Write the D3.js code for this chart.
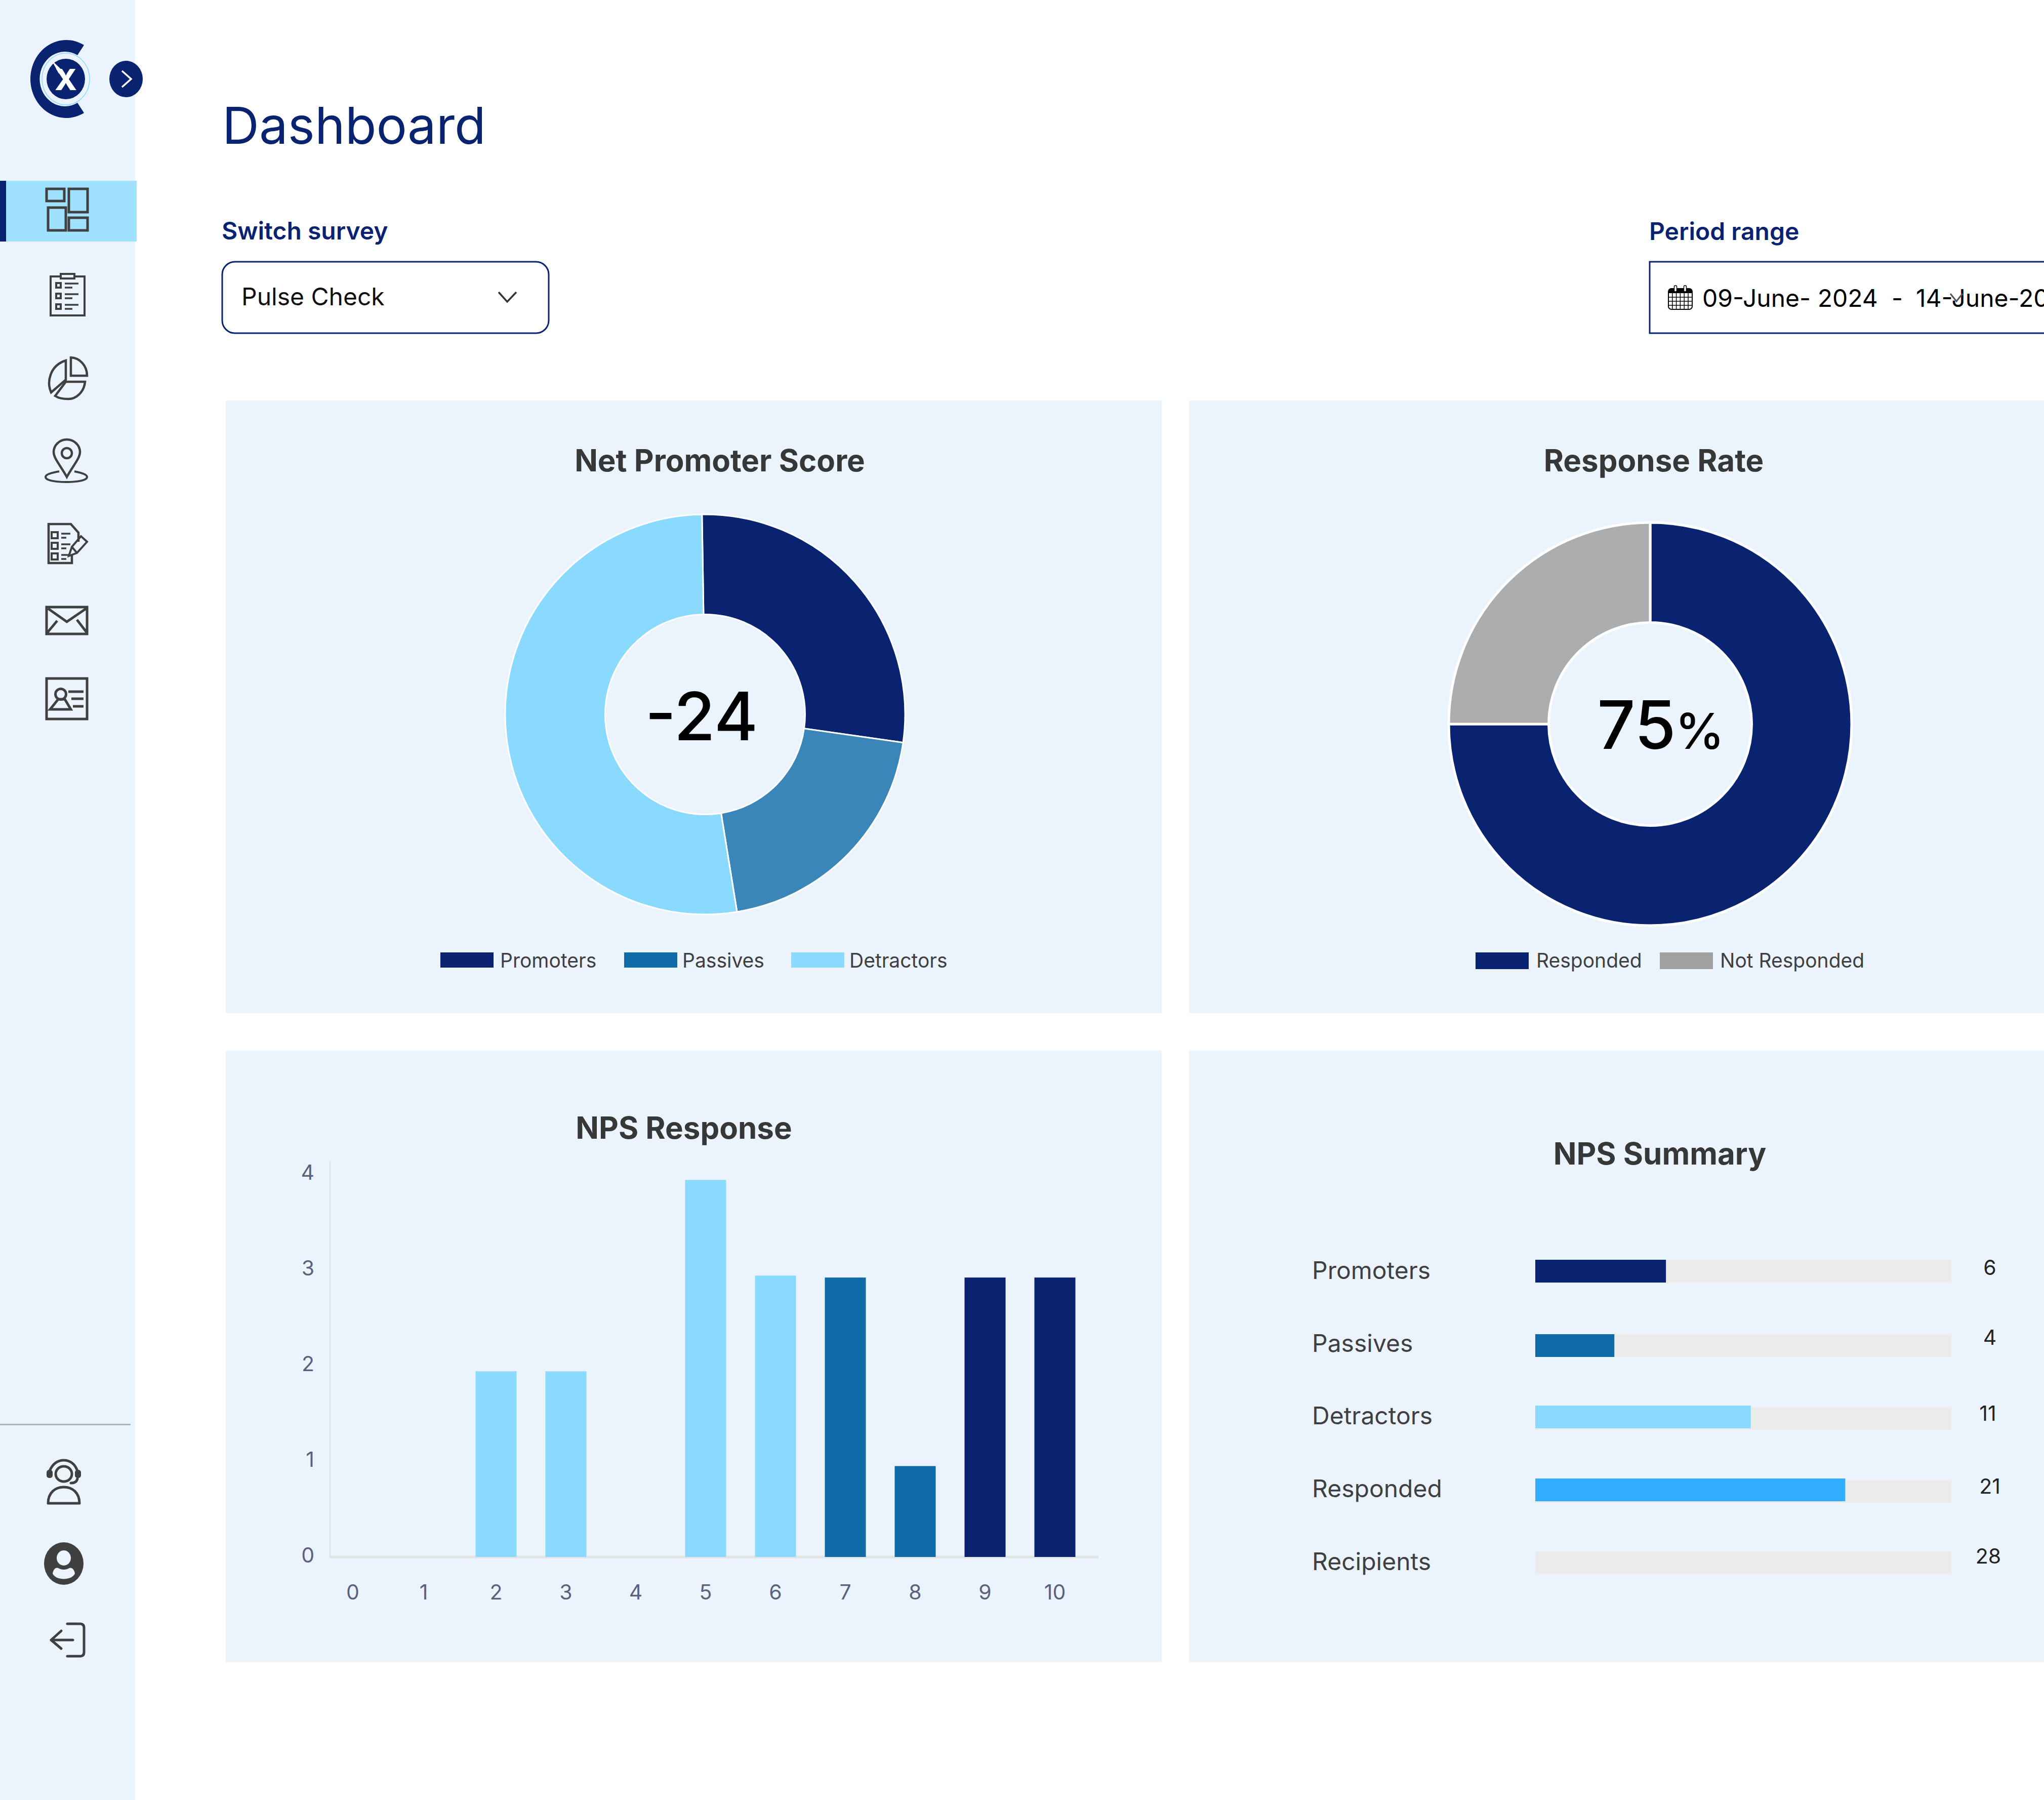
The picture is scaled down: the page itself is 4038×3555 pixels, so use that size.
<!DOCTYPE html>
<html>
<head>
<meta charset="utf-8">
<title>Dashboard</title>
<script src="https://cdn.jsdelivr.net/npm/d3@7"></script>
<style>
  html, body { margin: 0; padding: 0; background: #fff; overflow: hidden; }
  svg { display: block; font-family: Inter, "Noto Sans", sans-serif; }
</style>
</head>
<body>
<script>
var npsLabels = ['Promoters', 'Passives', 'Detractors'];
var npsShares = [27.5, 20.2, 52.3];
var npsScore = '-24';

var responseLabels = ['Responded', 'Not Responded'];
var responseShares = [75, 25];

var scoreTicks = [0, 1, 2, 3, 4, 5, 6, 7, 8, 9, 10];
var scoreCounts = [0, 0, 1.94, 1.94, 0, 3.94, 2.94, 2.92, 0.95, 2.92, 2.92];
var scoreGroups = ['d', 'd', 'd', 'd', 'd', 'd', 'd', 'p', 'p', 'n', 'n'];
var countTicks = [0, 1, 2, 3, 4];

var summaryLabels = ['Promoters', 'Passives', 'Detractors', 'Responded', 'Recipients'];
var summaryFill = [31.4, 19, 51.8, 74.5, 0];
var summaryCounts = [6, 4, 11, 21, 28];

var navy = '#0a2370', blue = '#0e6ba8', sky = '#8adaff', ink = '#373737', iconInk = '#404040';
var panel = '#ebf3fc';

var svg = d3.select('body').append('svg').attr('width', 4038).attr('height', 3555);

function rect(parent, x, y, w, h, fill) {
  return parent.append('rect').attr('x', x).attr('y', y).attr('width', w).attr('height', h).attr('fill', fill);
}

function label(parent, str, x, y, size, weight, color, anchor) {
  return parent.append('text').attr('x', x).attr('y', y).text(str)
    .attr('font-size', size).attr('font-weight', weight).attr('fill', color)
    .attr('text-anchor', anchor || 'start');
}

function drawSidebar() {
  var g = svg.append('g');
  rect(g, 0, 0, 267, 3555, panel);
  rect(g, 0, 357, 270, 120, '#9fe1ff');
  rect(g, 0, 357, 12, 120, navy);

  // logo
  g.append('path').attr('fill', navy)
    .attr('d', 'M166 89A71 77 0 1 0 166 223L153 203A50 54 0 1 1 153 109Z');
  g.append('ellipse').attr('cx', 130).attr('cy', 156).attr('rx', 47).attr('ry', 51)
    .attr('fill', 'none').attr('stroke', sky).attr('stroke-width', 1.5);
  g.append('ellipse').attr('cx', 130).attr('cy', 156).attr('rx', 38).attr('ry', 40).attr('fill', navy);
  g.append('path').attr('fill', '#fff').attr('d', 'M102 119L124 140L116 145Z');
  label(g, 'X', 130, 178, 58, 800, '#fff', 'middle');

  // collapse button
  g.append('ellipse').attr('cx', 249).attr('cy', 156).attr('rx', 33).attr('ry', 36).attr('fill', navy);
  g.append('path').attr('d', 'M241 140L259 156L241 172').attr('fill', 'none')
    .attr('stroke', '#fff').attr('stroke-width', 3.5);

  var icons = g.append('g').attr('fill', 'none').attr('stroke', iconInk).attr('stroke-width', 5);
  function p(d, w) { return icons.append('path').attr('d', d).attr('stroke-width', w || 5); }

  // dashboard
  p('M92 373H127V397H92ZM136 373H173V419H136ZM95 410H130V455H95ZM136 430H173V455H136Z');
  // clipboard
  p('M119 546H100V623H167V546H148M120 541H147V550H120Z', 4);
  [563, 584, 605].forEach(function(y) {
    p('M111 ' + (y - 4) + 'H120V' + (y + 5) + 'H111Z', 4);
    p('M128 ' + (y - 3) + 'H155M128 ' + (y + 5) + 'H143', 3.5);
  });
  // pie
  p('M140 706A33 36 0 0 1 172 742H140Z', 4.5);
  p('M130 754H168C166 775 150 788 135 788C125 788 115 786 109 782Z', 4.5);
  p('M130 712V750L101 775C92 755 98 722 130 712Z', 4.5);
  // pin
  p('M132 942C120 920 106 905 106 893A26 25 0 0 1 158 893C158 905 144 920 132 942Z', 4.5);
  icons.append('ellipse').attr('cx', 132).attr('cy', 895).attr('rx', 10).attr('ry', 10).attr('stroke-width', 4.5);
  p('M117 931C100 934 90 937 90 942C90 949 110 952 131 952C152 952 172 949 172 942C172 937 162 934 147 931', 4);
  // survey edit
  p('M142 1097V1112H96V1035H140L155 1052V1070', 4.5);
  [1057, 1078, 1099].forEach(function(y) {
    p('M102 ' + (y - 6) + 'H114V' + (y + 6) + 'H102Z', 4);
    p('M121 ' + (y - 3) + 'H139M121 ' + (y + 5) + 'H131', 3.5);
  });
  p('M136 1098L142 1080L160 1059L172 1070L152 1092ZM142 1080L152 1092', 4);
  // mail
  p('M92 1199H172V1252H92ZM95 1202L132 1228L170 1202M93 1250L113 1226M152 1224L172 1250');
  // contact card
  p('M92 1340H172V1420H92ZM99 1401H140L128 1381H115ZM135 1366H165M141 1380H165M144 1395H165');
  icons.append('ellipse').attr('cx', 120).attr('cy', 1371).attr('rx', 10.5).attr('ry', 10.5);

  // lower block sits a touch higher
  var lower = g.append('g').attr('transform', 'translate(0,-2)');
  rect(lower, 0, 2814, 258, 3, '#adb5c5');
  icons = lower.append('g').attr('fill', 'none').attr('stroke', iconInk).attr('stroke-width', 5);

  // headset
  p('M98 2907C104 2893 114 2886 126 2886C138 2886 148 2893 153 2907');
  icons.append('ellipse').attr('cx', 126).attr('cy', 2913).attr('rx', 16).attr('ry', 15);
  icons.append('rect').attr('x', 92).attr('y', 2905).attr('width', 12).attr('height', 16).attr('rx', 5)
    .attr('fill', iconInk).attr('stroke', 'none');
  icons.append('rect').attr('x', 148).attr('y', 2905).attr('width', 12).attr('height', 16).attr('rx', 5)
    .attr('fill', iconInk).attr('stroke', 'none');
  p('M153 2922C152 2928 147 2931 140 2931').attr('stroke-linecap', 'round');
  p('M95 2971H157C157 2950 143 2939 126 2939C109 2939 95 2950 95 2971Z').attr('stroke-linejoin', 'round');

  // avatar
  lower.append('ellipse').attr('cx', 126).attr('cy', 3090).attr('rx', 39).attr('ry', 42).attr('fill', iconInk);
  lower.append('ellipse').attr('cx', 126).attr('cy', 3079).attr('rx', 14).attr('ry', 15).attr('fill', panel);
  lower.append('path').attr('fill', panel)
    .attr('d', 'M104 3110C105 3102 110 3097 115 3099C122 3103 130 3103 137 3099C142 3097 147 3102 148 3110C141 3124 111 3124 104 3110Z');

  // logout
  p('M133 3209H158Q166 3209 166 3217V3265Q166 3273 158 3273H133M144 3241H101M121 3223L101 3241L121 3258')
    .attr('stroke-linecap', 'round').attr('stroke-linejoin', 'round');
}

function drawHeader() {
  label(svg, 'Dashboard', 439, 284, 101, 400, navy);
  label(svg, 'Switch survey', 438, 473, 48, 600, navy);
  svg.append('rect').attr('x', 439).attr('y', 517).attr('width', 645).attr('height', 141).attr('rx', 25)
    .attr('fill', '#fff').attr('stroke', navy).attr('stroke-width', 3);
  label(svg, 'Pulse Check', 477, 603, 48, 400, '#111');
  svg.append('path').attr('d', 'M985 577L1002 596L1020 577').attr('fill', 'none')
    .attr('stroke', '#333').attr('stroke-width', 3.5);

  label(svg, 'Period range', 3258, 474, 48, 600, navy);
  svg.append('rect').attr('x', 3259).attr('y', 517).attr('width', 900).attr('height', 141)
    .attr('fill', '#fff').attr('stroke', navy).attr('stroke-width', 3);

  var cal = svg.append('g');
  cal.append('rect').attr('x', 3296).attr('y', 570).attr('width', 47).attr('height', 41).attr('rx', 6)
    .attr('fill', '#fff').attr('stroke', '#000').attr('stroke-width', 2);
  cal.append('path').attr('d', 'M3296 579V576Q3296 570 3302 570H3337Q3343 570 3343 576V579Z').attr('fill', '#000');
  d3.range(1, 6).forEach(function(i) {
    cal.append('line').attr('x1', 3296 + i * 7.8).attr('x2', 3296 + i * 7.8).attr('y1', 579).attr('y2', 611)
      .attr('stroke', '#000').attr('stroke-width', 1.5);
  });
  d3.range(1, 4).forEach(function(i) {
    cal.append('line').attr('x1', 3296).attr('x2', 3343).attr('y1', 579 + i * 8).attr('y2', 579 + i * 8)
      .attr('stroke', '#000').attr('stroke-width', 1.5);
  });
  [3310, 3329].forEach(function(x) {
    rect(cal, x - 2.5, 564, 5, 12, '#fff').attr('stroke', '#000').attr('stroke-width', 1.5).attr('rx', 2);
  });

  label(svg, '09-June- 2024', 3363, 606, 48, 400, '#000');
  label(svg, '-', 3737, 606, 48, 400, '#000');
  label(svg, '14-June-2024', 3785, 606, 48, 400, '#000');
  svg.append('path').attr('d', 'M3853 580L3865 595L3877 580').attr('fill', 'none')
    .attr('stroke', '#555').attr('stroke-width', 3);
}

function drawDonut(opt) {
  var g = svg.append('g').attr('transform', 'translate(' + opt.cx + ',' + opt.cy + ')');
  var pie = d3.pie().sort(null).value(function(d) { return d; })
    .startAngle(opt.start * Math.PI / 180).endAngle((opt.start + 360) * Math.PI / 180);
  var arc = d3.arc().innerRadius(opt.inner).outerRadius(opt.outer);
  g.selectAll('path').data(pie(opt.values)).enter().append('path')
    .attr('d', arc)
    .attr('fill', function(d, i) { return opt.colors[i]; })
    .attr('stroke', '#fff').attr('stroke-width', opt.gap);
}

function drawLegend(labels, colors, swatchX, textX, y, h) {
  labels.forEach(function(name, i) {
    rect(svg, swatchX[i], y, 105, h, colors[i]);
    label(svg, name, textX[i], 1911, 39, 400, '#3f3f42');
  });
}

function drawCards() {
  rect(svg, 446, 791, 1849, 1210, panel);
  rect(svg, 2349, 791, 1689, 1210, panel);
  rect(svg, 446, 2075, 1849, 1208, panel);
  rect(svg, 2349, 2075, 1689, 1208, panel);

  label(svg, 'Net Promoter Score', 1422, 931, 60, 700, ink, 'middle');
  label(svg, 'Response Rate', 3267, 931, 60, 700, ink, 'middle');
  label(svg, 'NPS Response', 1351, 2249, 60, 700, ink, 'middle');
  label(svg, 'NPS Summary', 3279, 2300, 60, 700, ink, 'middle');
}

function drawBars() {
  var x = d3.scaleBand().domain(scoreTicks).range([635, 2153]).paddingInner(0.413).paddingOuter(0.2065);
  var y = d3.scaleLinear().domain([0, 4]).range([3075, 2319]);
  var colors = { d: sky, p: blue, n: navy };

  var yAxis = svg.append('g').attr('transform', 'translate(652,-3)')
    .call(d3.axisLeft(y).tickValues(countTicks).tickFormat(d3.format('d')).tickSize(0).tickPadding(31));
  yAxis.select('.domain').remove();
  var xAxis = svg.append('g').attr('transform', 'translate(0,3075)')
    .call(d3.axisBottom(x).tickSize(0).tickPadding(55));
  xAxis.select('.domain').remove();
  svg.selectAll('.tick text').attr('font-family', 'Inter').attr('font-size', 41).attr('fill', '#5c6080');
  xAxis.selectAll('.tick text').attr('dx', function(d) { return d == 0 ? -7 : d == 1 ? -5 : 0; });

  svg.append('line').attr('x1', 652).attr('x2', 652).attr('y1', 2293).attr('y2', 3077)
    .attr('stroke', '#e2e5e8').attr('stroke-width', 3);
  svg.append('line').attr('x1', 652).attr('x2', 2170).attr('y1', 3075).attr('y2', 3075)
    .attr('stroke', '#e2e3e5').attr('stroke-width', 5);

  svg.append('g').selectAll('rect').data(scoreCounts).enter().append('rect')
    .attr('x', function(d, i) { return x(scoreTicks[i]); })
    .attr('y', function(d) { return y(d); })
    .attr('width', x.bandwidth())
    .attr('height', function(d) { return y(0) - y(d); })
    .attr('fill', function(d, i) { return colors[scoreGroups[i]]; });
}

function drawSummary() {
  var x = d3.scaleLinear().domain([0, 100]).range([3033, 3855]);
  var trackY = [2488, 2635, 2779, 2923, 3064];
  var fillY = [2488, 2635, 2776, 2920, 3064];
  var textY = [2526, 2670, 2813, 2957, 3101];
  var countX = [3931, 3931, 3927, 3931, 3928];
  var countY = [2518, 2656, 2806, 2950, 3088];
  var colors = [navy, blue, sky, '#33adff', 'none'];

  summaryLabels.forEach(function(name, i) {
    label(svg, name, 2592, textY[i], 48, 400, '#3f3f42');
    rect(svg, x(0), trackY[i], x(100) - x(0), 45, '#ebebeb');
    if (summaryFill[i] > 0) rect(svg, x(0), fillY[i], x(summaryFill[i]) - x(0), 45, colors[i]);
    label(svg, summaryCounts[i], countX[i], countY[i], 41, 400, '#222', 'middle');
  });
}

drawSidebar();
drawHeader();
drawCards();

drawDonut({ cx: 1393, cy: 1411, outer: 395, inner: 197.5, start: -0.9, gap: 3,
  values: npsShares, colors: [navy, '#3b86b8', sky] });
label(svg, npsScore, 1386, 1462, 132, 500, '#000', 'middle');
drawLegend(npsLabels, [navy, blue, sky], [870, 1233, 1563], [988, 1348, 1678], 1881, 30);

drawDonut({ cx: 3260, cy: 1430, outer: 398, inner: 200.5, start: 0, gap: 5,
  values: responseShares, colors: [navy, '#acadae'] });
label(svg, '75', 3233, 1479, 132, 500, '#000', 'middle');
label(svg, '%', 3358, 1479, 98, 500, '#000', 'middle');
drawLegend(responseLabels, [navy, '#a0a0a0'], [2915, 3279], [3035, 3398], 1881, 33);

drawBars();
drawSummary();
</script>
</body>
</html>
